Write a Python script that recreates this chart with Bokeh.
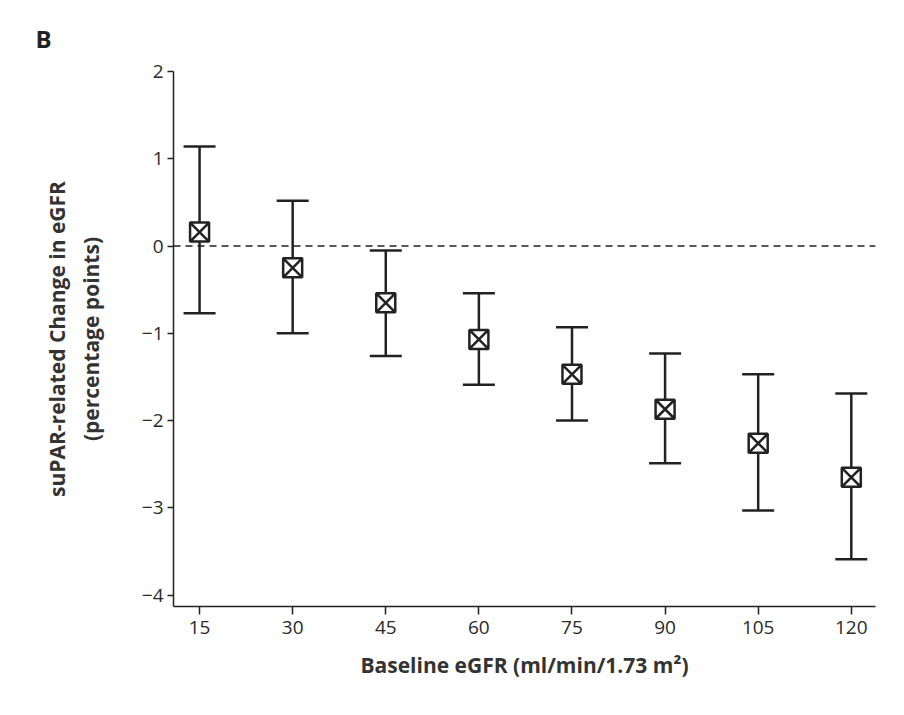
from bokeh.plotting import figure
from bokeh.models import ColumnDataSource, Whisker, TeeHead, Span, FixedTicker, Range1d, Title
from bokeh.embed import file_html
from bokeh.resources import INLINE

# ---- data ----
egfr = [15, 30, 45, 60, 75, 90, 105, 120]
change = [0.16, -0.25, -0.65, -1.07, -1.47, -1.87, -2.26, -2.65]
upper = [1.14, 0.52, -0.05, -0.54, -0.93, -1.23, -1.47, -1.69]
lower = [-0.77, -1.00, -1.26, -1.59, -2.00, -2.49, -3.03, -3.59]
x_ticks = [15, 30, 45, 60, 75, 90, 105, 120]
y_ticks = [-4, -3, -2, -1, 0, 1, 2]
y_tick_labels = ["\u22124", "\u22123", "\u22122", "\u22121", "0", "1", "2"]
x_title = "Baseline eGFR (ml/min/1.73 m\u00b2)"
y_title = "suPAR-related Change in eGFR\n(percentage points)"
panel_letter = "B"

FONT = "Open Sans"
INK = "#222222"

X0, X1 = 10.8, 123.9
Y0, Y1 = -4.13, 2.0

src = ColumnDataSource(dict(x=egfr, y=change, upper=upper, lower=lower))

p = figure(width=888, height=699, output_backend="svg", toolbar_location=None,
           x_range=Range1d(X0, X1), y_range=Range1d(Y0, Y1),
           min_border_left=173, min_border_right=13, min_border_top=71, min_border_bottom=93)
p.outline_line_color = None
p.grid.visible = False
p.background_fill_color = "white"
p.border_fill_color = "white"

# panel letter as a left-aligned title pulled to the top-left corner
p.title = Title(text=panel_letter, align="left", offset=-138, standoff=34,
                text_font=FONT, text_font_size="24px", text_font_style="bold",
                text_color=INK)

# zero reference line
p.add_layout(Span(location=0, dimension="width", line_color=INK, line_width=1.5,
                  line_dash="7 5"))

# error bars
w = Whisker(source=src, base="x", upper="upper", lower="lower",
            line_color=INK, line_width=2.5,
            upper_head=TeeHead(size=32, line_color=INK, line_width=2.5),
            lower_head=TeeHead(size=32, line_color=INK, line_width=2.5))
p.add_layout(w)

# point estimates
p.scatter("x", "y", source=src, marker="square_x", size=19, fill_color="white",
          line_color=INK, line_width=2.5)

# axes
xa = p.xaxis[0]
xa.ticker = FixedTicker(ticks=x_ticks)
xa.axis_label = x_title
ya = p.yaxis[0]
ya.ticker = FixedTicker(ticks=y_ticks)
ya.major_label_overrides = {t: l for t, l in zip(y_ticks, y_tick_labels)}
ya.axis_label = y_title
ya.bounds = (Y0, Y1)

for ax in (xa, ya):
    ax.axis_line_color = INK
    ax.axis_line_width = 1.5
    ax.major_tick_line_color = INK
    ax.major_tick_line_width = 1.5
    ax.minor_tick_line_color = None
    ax.major_tick_in = 0
    ax.major_label_text_font = FONT
    ax.major_label_text_font_size = "19px"
    ax.major_label_text_color = "#2a2a2a"
    ax.axis_label_text_font = FONT
    ax.axis_label_text_font_size = "21px"
    ax.axis_label_text_font_style = "bold"
    ax.axis_label_text_color = "#333333"

xa.major_tick_out = 8
xa.major_label_standoff = 6
xa.axis_label_standoff = 14
ya.major_tick_out = 6
ya.major_label_standoff = 4
ya.axis_label_standoff = 34

open("out.html", "w").write(file_html(p, INLINE))
